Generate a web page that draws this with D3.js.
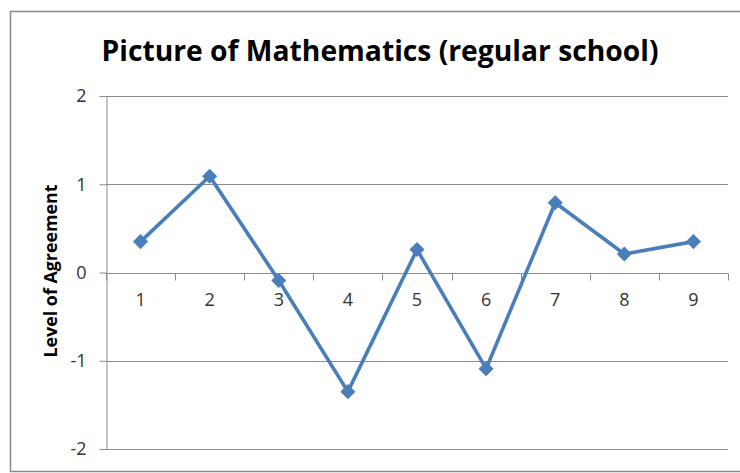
<!DOCTYPE html>
<html lang="en">
<head>
<meta charset="utf-8">
<title>Picture of Mathematics</title>
<script src="https://d3js.org/d3.v7.min.js"></script>
<style>
body { margin: 0; background: #fff; }
text { font-family: "Open Sans", "Liberation Sans", sans-serif; }
.grid line { stroke: #8c8c8c; stroke-width: 1; }
.axis path, .axis line { stroke: #8c8c8c; stroke-width: 1; }
</style>
</head>
<body>
<div id="container"></div>
<script>
var categories = ["1", "2", "3", "4", "5", "6", "7", "8", "9"];
var agreement = [0.35, 1.09, -0.09, -1.35, 0.26, -1.09, 0.79, 0.21, 0.35];
var yTicks = [-2, -1, 0, 1, 2];

var w = 740, h = 473;
var plotLeft = 106, plotRight = 728, plotTop = 96, plotBottom = 449;

var svg = d3.select("#container").append("svg")
    .attr("width", w).attr("height", h);

// chart area border
svg.append("rect")
    .attr("x", 10.5).attr("y", 11.5)
    .attr("width", 740).attr("height", 460)
    .attr("fill", "none").attr("stroke", "#888").attr("stroke-width", 1.5);

var x = d3.scaleBand().domain(categories).range([plotLeft, plotRight]);
var y = d3.scaleLinear().domain([-2, 2]).range([plotBottom, plotTop]);

// horizontal gridlines
svg.append("g").attr("class", "grid")
  .selectAll("line").data(yTicks).enter().append("line")
    .attr("x1", plotLeft).attr("x2", plotRight)
    .attr("y1", d => Math.round(y(d)) + 0.5).attr("y2", d => Math.round(y(d)) + 0.5);

// y axis
var yAxis = svg.append("g").attr("class", "axis")
    .attr("transform", "translate(" + (plotLeft + 0.5) + ",0)")
    .call(d3.axisLeft(y).tickValues(yTicks).tickFormat(d => String(d))
        .tickSize(7).tickPadding(13).tickSizeOuter(0));

// x axis sits on zero line, ticks between categories
var xAxis = svg.append("g").attr("class", "axis")
    .attr("transform", "translate(0," + (Math.round(y(0)) + 0.5) + ")")
    .call(d3.axisBottom(x).tickSize(0).tickPadding(20));
xAxis.select(".domain").remove();
xAxis.append("line").attr("x1", plotLeft).attr("x2", plotRight);
var bounds = categories.map(c => x(c)).concat([plotRight]);
xAxis.selectAll(".sep").data(bounds).enter().append("line")
    .attr("class", "sep")
    .attr("x1", d => Math.round(d) + 0.5).attr("x2", d => Math.round(d) + 0.5)
    .attr("y1", 0).attr("y2", 7);

svg.selectAll(".axis text")
    .attr("font-size", 18)
    .attr("font-family", "'Open Sans', sans-serif")
    .attr("fill", "#333");

// series line
var line = d3.line()
    .x((d, i) => x(categories[i]) + x.bandwidth() / 2)
    .y(d => y(d));
svg.append("path")
    .datum(agreement)
    .attr("fill", "none")
    .attr("stroke", "#4a7ebb")
    .attr("stroke-width", 3.6)
    .attr("stroke-linejoin", "round")
    .attr("d", line);

svg.selectAll(".marker").data(agreement).enter().append("path")
    .attr("class", "marker")
    .attr("d", d3.symbol().type(d3.symbolDiamond2).size(145))
    .attr("transform", (d, i) => "translate(" + (x(categories[i]) + x.bandwidth() / 2) + "," + y(d) + ")")
    .attr("fill", "#4a7ebb");

// title
var title = svg.append("text")
    .attr("x", 380).attr("y", 61)
    .attr("text-anchor", "middle")
    .attr("font-weight", "bold")
    .attr("font-size", 30)
    .attr("fill", "#000")
    .text("Picture of Mathematics (regular school)");
var tw = title.node().getComputedTextLength();
title.attr("font-size", 30 * 557 / tw);

// y axis title
var yTitle = svg.append("text")
    .attr("transform", "translate(57,271) rotate(-90)")
    .attr("text-anchor", "middle")
    .attr("font-weight", "bold")
    .attr("font-size", 15)
    .attr("fill", "#000")
    .text("Level of Agreement");
var lw = yTitle.node().getComputedTextLength();
yTitle.attr("font-size", 15 * 173 / lw);
</script>
</body>
</html>
